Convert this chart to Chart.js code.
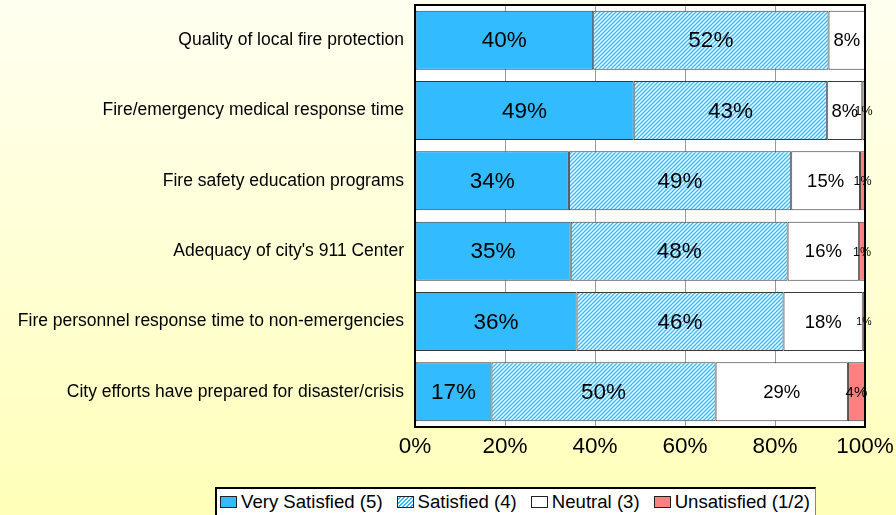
<!DOCTYPE html>
<html>
<head>
<meta charset="utf-8">
<script src="https://cdn.jsdelivr.net/npm/chart.js@4/dist/chart.umd.min.js"></script>
<style>
  html, body { margin: 0; padding: 0; }
  body { width: 896px; height: 515px; overflow: hidden; position: relative;
         background: linear-gradient(to bottom, #FFFFF0 0%, #FFFFB9 100%);
         font-family: "Liberation Sans", Arial, sans-serif; }
  #wrap { position: absolute; left: 0; top: 0; width: 896px; height: 515px; }
  #legend { position: absolute; left: 215px; top: 487px; width: 601px; height: 32px;
            background: #fff; border-top: 2px solid #000; border-left: 2px solid #000;
            border-right: 1px solid #888; box-sizing: border-box;
            display: flex; align-items: center; padding-left: 3px; padding-bottom: 5px;
            font-size: 18.6px; color: #000; white-space: nowrap; }
  .item { display: flex; align-items: center; margin-right: 14px; }
  .box { width: 15px; height: 10px; border: 1px solid #222; margin-right: 4px; }
</style>
</head>
<body>
<div id="wrap"><canvas id="c" width="896" height="515"></canvas></div>
<div id="legend"></div>
<script>
// ---- data ----
const categories = [
  "Quality of local fire protection",
  "Fire/emergency medical response time",
  "Fire safety education programs",
  "Adequacy of city's 911 Center",
  "Fire personnel response time to non-emergencies",
  "City efforts have prepared for disaster/crisis"
];
const seriesNames = ["Very Satisfied (5)", "Satisfied (4)", "Neutral (3)", "Unsatisfied (1/2)"];
const verySatisfied = [39.6, 48.6, 34.2, 34.6, 35.9, 17.0];
const satisfied     = [52.3, 43.0, 49.4, 48.2, 46.0, 49.8];
const neutral       = [8.1, 7.8, 15.3, 15.9, 17.6, 29.4];
const unsatisfied   = [0, 0.6, 1.1, 1.3, 0.5, 3.8];
const xTicks = [0, 20, 40, 60, 80, 100];

// ---- styles ----
const BLUE = '#33BBFF';
const RED = '#FF8080';
function hatch() {
  const c = document.createElement('canvas');
  c.width = 4; c.height = 4;
  const g = c.getContext('2d');
  g.fillStyle = '#fff'; g.fillRect(0, 0, 4, 4);
  g.strokeStyle = BLUE; g.lineWidth = 1.4;
  g.beginPath();
  g.moveTo(-1, 5); g.lineTo(5, -1);
  g.moveTo(-1, 1); g.lineTo(1, -1);
  g.moveTo(3, 5); g.lineTo(5, 3);
  g.stroke();
  return g.createPattern(c, 'repeat');
}
const hatchPattern = hatch();
const fills = [BLUE, hatchPattern, '#FFFFFF', RED];
const labelSizes = [
  [22.5, 22.5, 22.5, 22.5, 22.5, 22.5],
  [22.5, 22.5, 22.5, 22.5, 22.5, 22.5],
  [18.5, 18.5, 18.5, 18.5, 18.5, 18.5],
  [12, 12.5, 12.5, 12.5, 10.5, 15]
];

function zeroPad(scale) {
  scale.paddingTop = 0; scale.paddingBottom = 0;
  scale.paddingLeft = 0; scale.paddingRight = 0;
}

const bgPlugin = {
  id: 'bg',
  beforeDraw(chart) {
    const { ctx, chartArea: a } = chart;
    ctx.save();
    ctx.fillStyle = '#fff';
    ctx.fillRect(a.left, a.top, a.right - a.left, a.bottom - a.top);
    ctx.restore();
  },
  afterDatasetsDraw(chart) {
    const { ctx, chartArea: a } = chart;
    ctx.save();
    chart.data.datasets.forEach((ds, di) => {
      const meta = chart.getDatasetMeta(di);
      meta.data.forEach((el, i) => {
        const v = ds.data[i];
        if (!v) return;
        const cx = (el.x + el.base) / 2;
        ctx.font = labelSizes[di][i] + 'px "Liberation Sans", Arial, sans-serif';
        ctx.fillStyle = '#000';
        ctx.textAlign = 'center';
        ctx.textBaseline = 'middle';
        ctx.fillText(Math.round(v) + '%', cx, el.y + 1);
      });
    });
    ctx.strokeStyle = '#000';
    ctx.lineWidth = 2;
    ctx.strokeRect(a.left, a.top, a.right - a.left, a.bottom - a.top);
    ctx.restore();
  }
};

const seriesValues = [verySatisfied, satisfied, neutral, unsatisfied];
const datasets = seriesValues.map((vals, k) => ({
  label: seriesNames[k],
  data: vals,
  backgroundColor: fills[k],
  borderColor: '#3a3a3a',
  borderWidth: ctx => (ctx.raw > 0 ? 1 : 0),
  borderSkipped: false,
  barPercentage: 0.84,
  categoryPercentage: 1.0
}));

new Chart(document.getElementById('c'), {
  type: 'bar',
  data: { labels: categories, datasets },
  options: {
    indexAxis: 'y',
    responsive: false,
    animation: false,
    layout: { padding: { left: 0, right: 31, top: 5, bottom: 58 } },
    plugins: { legend: { display: false }, tooltip: { enabled: false } },
    scales: {
      x: {
        stacked: true, min: 0, max: 100,
        afterBuildTicks(scale) { scale.ticks = xTicks.map(v => ({ value: v })); },
        afterFit(scale) { scale.height = 30; zeroPad(scale); },
        ticks: {
          padding: 6, color: '#000', maxRotation: 0, autoSkip: false,
          font: { size: 22.5, family: '"Liberation Sans", Arial, sans-serif' },
          callback: v => v + '%'
        },
        grid: { color: '#9a9a9a', drawTicks: false, lineWidth: 1 },
        border: { display: false }
      },
      y: {
        stacked: true,
        afterFit(scale) { scale.width = 415; zeroPad(scale); },
        ticks: {
          padding: 11, color: '#000',
          font: { size: 17.5, family: '"Liberation Sans", Arial, sans-serif' }
        },
        grid: { display: false, drawTicks: false },
        border: { display: false }
      }
    }
  },
  plugins: [bgPlugin]
});

const legendBoxes = [
  'background:' + BLUE,
  'background: repeating-linear-gradient(135deg, #fff 0 1.4px, ' + BLUE + ' 1.4px 2.8px)',
  'background:#fff',
  'background:' + RED
];
const lg = document.getElementById('legend');
seriesNames.forEach((n, k) => {
  const it = document.createElement('div');
  it.className = 'item';
  it.innerHTML = '<span class="box" style="' + legendBoxes[k] + '"></span><span>' + n + '</span>';
  lg.appendChild(it);
});
</script>
</body>
</html>
